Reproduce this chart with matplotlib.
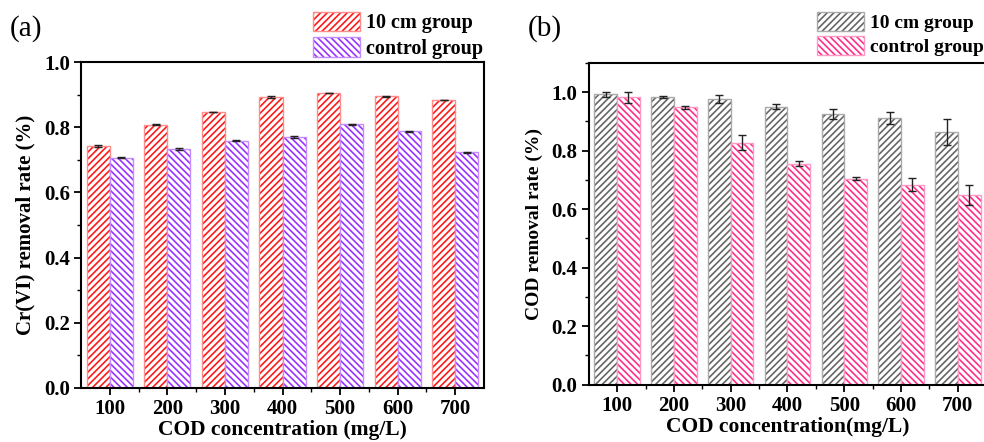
import matplotlib.pyplot as plt
from matplotlib.ticker import MultipleLocator
import numpy as np

# data
cod = [100, 200, 300, 400, 500, 600, 700]

cr_10cm = [0.741, 0.808, 0.847, 0.893, 0.905, 0.895, 0.883]
cr_10cm_err = [0.003, 0.002, 0.001, 0.002, 0.001, 0.002, 0.001]
cr_ctrl = [0.707, 0.733, 0.759, 0.770, 0.809, 0.787, 0.723]
cr_ctrl_err = [0.002, 0.002, 0.001, 0.002, 0.001, 0.002, 0.001]

cod_10cm = [0.993, 0.984, 0.976, 0.950, 0.924, 0.911, 0.864]
cod_10cm_err = [0.008, 0.004, 0.014, 0.009, 0.017, 0.020, 0.043]
cod_ctrl = [0.982, 0.948, 0.828, 0.756, 0.705, 0.684, 0.648]
cod_ctrl_err = [0.018, 0.005, 0.027, 0.009, 0.006, 0.022, 0.035]

plt.rcParams['font.family'] = 'Liberation Serif'
plt.rcParams['hatch.linewidth'] = 1.2

fig = plt.figure(figsize=(9.84, 4.42), dpi=100)
ax_a = fig.add_axes([0.0823, 0.1222, 0.4096, 0.7375])
ax_b = fig.add_axes([0.5983, 0.1296, 0.4040, 0.7279])

w = 40
x = np.array(cod)
NE = '/////'
NW = '\\\\\\\\\\'


def hbar(ax, xs, vals, errs, hatch, hcol, ecol):
    # hatch layer, then light outline on top
    b1 = ax.bar(xs, vals, w, color='white', edgecolor=hcol, hatch=hatch,
                linewidth=0)
    b2 = ax.bar(xs, vals, w, facecolor='none', edgecolor=ecol, linewidth=1.0)
    ax.errorbar(xs, vals, yerr=errs, fmt='none', ecolor='#222222',
                elinewidth=1.0, capsize=3, capthick=1.0)
    return (b1[0], b2[0])


def style(ax, ylim, ylabel, xlabel, tag, lab_x, ysize):
    ax.set_xlim(50, 750)
    ax.set_ylim(*ylim)
    ax.set_xticks(cod)
    ax.set_xticks([150, 250, 350, 450, 550, 650], minor=True)
    ax.yaxis.set_minor_locator(MultipleLocator(0.1))
    ticks = np.arange(0, 1.01, 0.2)
    ax.set_yticks(ticks)
    ax.set_yticklabels([f"{v:.1f}" for v in ticks])
    ax.tick_params(which='major', direction='out', length=5, width=1.3,
                   labelsize=15, pad=3)
    ax.tick_params(which='minor', direction='out', length=3, width=1.0)
    for lab in ax.get_xticklabels() + ax.get_yticklabels():
        lab.set_fontweight('bold')
    for s in ax.spines.values():
        s.set_linewidth(1.5)
    ax.set_ylabel(ylabel, fontsize=ysize, fontweight='bold', labelpad=6)
    ax.set_xlabel(xlabel, fontsize=15.5, fontweight='bold', labelpad=1)
    fig.text(lab_x, 0.965, tag, fontsize=21, va='top', ha='left')


ha1 = hbar(ax_a, x - w / 2, cr_10cm, cr_10cm_err, NE, '#ff1a1a', '#ff8c8c')
ha2 = hbar(ax_a, x + w / 2, cr_ctrl, cr_ctrl_err, NW, '#9933ff', '#c58cff')
style(ax_a, (0, 1.0), 'Cr(VI) removal rate (%)', 'COD concentration (mg/L)',
      '(a)', 0.010, 15)

hb1 = hbar(ax_b, x - w / 2, cod_10cm, cod_10cm_err, NE, '#666666', '#aaaaaa')
hb2 = hbar(ax_b, x + w / 2, cod_ctrl, cod_ctrl_err, NW, '#ff2e8a', '#ff99c4')
style(ax_b, (0, 1.1), 'COD removal rate (%)', 'COD concentration(mg/L)',
      '(b)', 0.536, 14)

labels = ['10 cm group', 'control group']
for hs, lx, fs in [((ha1, ha2), 0.318, 14.5), ((hb1, hb2), 0.830, 14)]:
    fig.legend(list(hs), labels, loc='upper left', bbox_to_anchor=(lx, 0.973),
               frameon=False, prop={'weight': 'bold', 'size': fs},
               handlelength=2.35 * 14.5 / fs, handleheight=1.1 * 14.5 / fs,
               handletextpad=0.3, labelspacing=0.2 * 14.5 / fs,
               borderaxespad=0.0, borderpad=0.0)

fig.savefig('out.png', dpi=100)
plt.close(fig)
